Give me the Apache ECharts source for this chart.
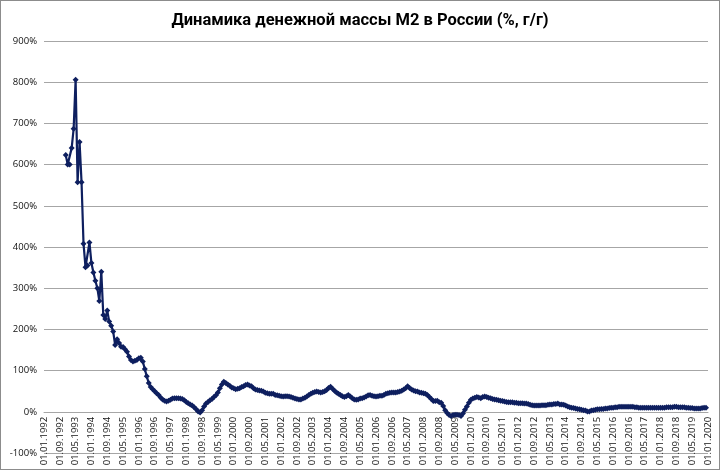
<!DOCTYPE html>
<html>
<head>
<meta charset="utf-8">
<script src="https://cdn.jsdelivr.net/npm/echarts@6/dist/echarts.min.js"></script>
<style>
html,body{margin:0;padding:0;background:#fff;}
#chart{width:720px;height:470px;box-sizing:border-box;border:1px solid #8c8c8c;}
</style>
</head>
<body>
<div id="chart"></div>
<script>
// M2 growth, % y/y, monthly (Jan..Dec of each year)
const y1992 = [null,null,null,null,null,null,null,null,null,null,null,623];
const y1993 = [600,600,640,687,806,557,655,557,408,351,355,411];
const y1994 = [361,338,318,300,269,340,235,225,246,219,209,195];
const y1995 = [162,176,167,158,157,152,146,134,126,122,124,126];
const y1996 = [130,131,122,104,86,70,60,55,50,45,41,35];
const y1997 = [30,27,25,27,29,32,33,33,33,32,31,28];
const y1998 = [24,21,18,15,11,6,1,-2,4,13,20,24];
const y1999 = [28,31,36,40,47,57,66,73,70,66,63,59];
const y2000 = [57,55,56,57,60,62,65,66,64,62,57,54];
const y2001 = [53,52,51,49,46,45,44,44,44,41,40,39];
const y2002 = [38,37,38,38,37,36,34,32,31,30,30,32];
const y2003 = [34,37,41,44,46,48,49,48,47,48,50,53];
const y2004 = [58,61,56,51,47,44,41,38,36,38,41,37];
const y2005 = [33,30,29,30,32,33,35,37,40,41,39,38];
const y2006 = [37,38,39,39,41,44,45,46,47,47,47,48];
const y2007 = [49,51,54,57,62,58,54,52,50,49,47,46];
const y2008 = [45,44,41,36,31,26,26,27,23,22,14,4];
const y2009 = [-3,-8,-10,-8,-7,-7,-8,-10,-4,5,13,22];
const y2010 = [29,32,34,36,35,33,36,37,36,34,33,31];
const y2011 = [30,29,28,27,26,25,24,23,23,23,22,22];
const y2012 = [21,21,21,20,20,19,17,16,15,15,15,15];
const y2013 = [16,16,16,17,18,18,19,19,20,18,18,17];
const y2014 = [15,13,11,10,9,8,7,6,5,4,3,1];
const y2015 = [1,3,4,5,6,6,7,7,8,8,9,10];
const y2016 = [10,11,11,12,12,12,12,12,12,12,12,11];
const y2017 = [11,10,10,10,10,10,10,10,10,10,10,10];
const y2018 = [10,10,10,11,11,11,11,12,12,11,11,11];
const y2019 = [11,10,10,9,9,8,8,8,8,9,10,10];
const y2020 = [null];

const firstYear = 1992, lastYear = 2020;
const yTicks = {min:-100, max:900, step:100};
const title = 'Динамика денежной массы М2 в России (%, г/г)';

const m2 = [].concat(y1992,y1993,y1994,y1995,y1996,y1997,y1998,y1999,y2000,
  y2001,y2002,y2003,y2004,y2005,y2006,y2007,y2008,y2009,y2010,y2011,y2012,
  y2013,y2014,y2015,y2016,y2017,y2018,y2019,y2020);

const categories = [];
for (let y = firstYear; y <= lastYear; y++) {
  for (let mo = 1; mo <= 12; mo++) {
    if (y === lastYear && mo > 1) break;
    categories.push('01.' + String(mo).padStart(2,'0') + '.' + y);
  }
}

const gridTop = 40, gridBottom = 16, chartH = 468;
const gridH = chartH - gridTop - gridBottom;
// place the category axis at the 0% level, like the original
const zeroOffset = -gridH * (0 - yTicks.min) / (yTicks.max - yTicks.min);

const chart = echarts.init(document.getElementById('chart'));
chart.setOption({
  animation: false,
  backgroundColor: '#fff',
  title: {
    text: title,
    left: 'center',
    top: 6,
    textStyle: {fontFamily: 'Roboto', fontWeight: 'bold', fontSize: 16.5, color: '#000'}
  },
  grid: {left: 43, right: 11, top: gridTop, bottom: gridBottom, containLabel: false, outerBoundsMode: 'none'},
  xAxis: {
    type: 'category',
    data: categories,
    boundaryGap: false,
    position: 'bottom',
    offset: zeroOffset,
    axisLine: {onZero: false, lineStyle: {color: '#a6a6a6', width: 1}},
    axisTick: {show: false},
    axisLabel: {
      interval: 7,
      rotate: 90,
      margin: 5,
      fontFamily: 'Open Sans',
      fontSize: 9.5,
      color: '#111'
    },
    splitLine: {show: false}
  },
  yAxis: {
    type: 'value',
    min: yTicks.min,
    max: yTicks.max,
    interval: yTicks.step,
    axisLine: {show: false},
    axisTick: {show: false},
    axisLabel: {
      formatter: '{value}%',
      margin: 7,
      fontFamily: 'Open Sans',
      fontSize: 9.5,
      color: '#111'
    },
    splitLine: {lineStyle: {color: '#a6a6a6', width: 1}}
  },
  series: [{
    type: 'line',
    data: m2,
    connectNulls: false,
    symbol: 'diamond',
    symbolSize: 6,
    showAllSymbol: true,
    lineStyle: {color: '#0e1f5f', width: 2.2},
    itemStyle: {color: '#0e1f5f'}
  }]
});
</script>
</body>
</html>
